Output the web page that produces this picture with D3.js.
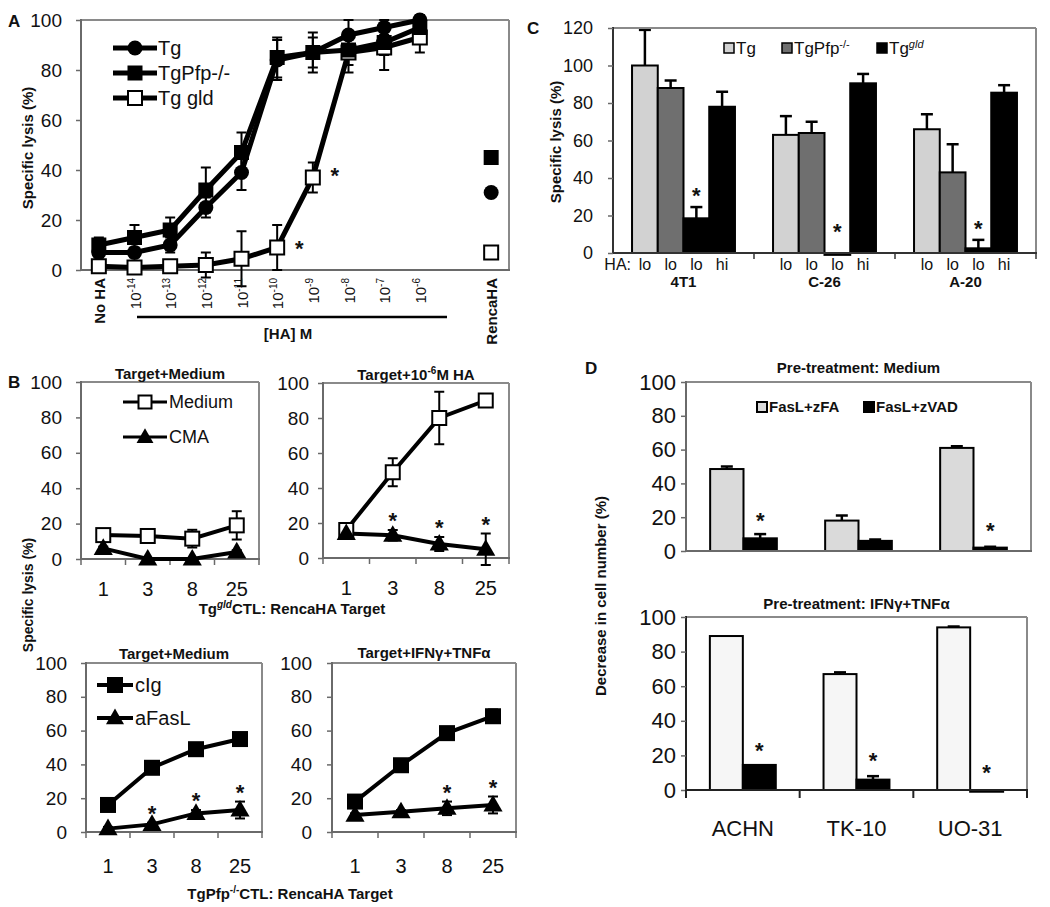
<!DOCTYPE html>
<html><head><meta charset="utf-8">
<script src="https://cdn.jsdelivr.net/npm/d3@7"></script>
<style>body{margin:0;background:#fff} svg text{font-family:"Liberation Sans",Arial,sans-serif;fill:#111}</style>
</head><body>
<svg id="c" width="1050" height="907"></svg>
<script>
// ---------- DATA ----------
// Panel A
const aConc = ["No HA","-14","-13","-12","-11","-10","-9","-8","-7","-6"];
const aTg = [7,7,10,25,39,84,87,94,97,100];
const aTgErr = [2,2,3,4,7,8,6,6,3,2];
const aPfp = [10,13,16,32,47,85,87,88,91,97];
const aPfpErr = [3,5,5,9,8,8,8,6,5,3];
const aGld = [1.5,1,1.5,2,4.5,9,37,87,89,93];
const aGldErr = [1,1,1,5,11,9,6,8,9,6];
const aRencaLabel = "RencaHA";
const aRenca = [31,45,7]; // Tg, TgPfp-/-, Tg gld
const aYTicks = [0,20,40,60,80,100];
// Panel C
const cGroups = ["4T1","C-26","A-20"];
const cHA = ["lo","lo","lo","hi"];
const cTg = [100,63,66];     const cTgErr = [19,10,8];
const cPfp = [88,64,43];     const cPfpErr = [4,6,15];
const cGldLo = [18.5,-1,2.5];const cGldLoErr = [6,0,4.5];
const cGldHi = [78,90.5,85.5];const cGldHiErr = [8,5,4];
const cYTicks = [0,20,40,60,80,100,120];
// Panel B
const bRatios = ["1","3","8","25"];
const b1Medium = [13.5,13,11.5,19]; const b1MediumErr = [2,2,5,8];
const b1CMA = [6,0,0,4];            const b1CMAErr = [1,0,0,1];
const b2Medium = [16,49,80,90];     const b2MediumErr = [4,8,15,1];
const b2CMA = [14,13,8,5];          const b2CMAErr = [3,3,4,9];
const b3cIg = [16,38,49,55];        const b3cIgErr = [2,2,2,3];
const b3aFasL = [2,4.5,11,13];      const b3aFasLErr = [1,1,2,5];
const b4cIg = [18,39.5,58.5,68.5];  const b4cIgErr = [3,2,3,4];
const b4aFasL = [10,12,14,16];      const b4aFasLErr = [1,1,4,5];
const bYTicks = [0,20,40,60,80,100];
// Panel D
const dLines = ["ACHN","TK-10","UO-31"];
const dMedZFA = [48.5,18,61];   const dMedZFAErr = [1.5,3,1];
const dMedZVAD = [7.5,6,2];     const dMedZVADErr = [2.5,0.8,0.5];
const dCytZFA = [89,67,94];     const dCytZFAErr = [0,1,0.5];
const dCytZVAD = [14.5,6,-1];   const dCytZVADErr = [0,2,0];
const dYTicks = [0,20,40,60,80,100];

// ---------- HELPERS ----------
const svg = d3.select("#c");
const FRAME = "#8a8a8a", AXIS = "#6a6a6a";
function line(g,x1,y1,x2,y2,c,w){return g.append("line").attr("x1",x1).attr("y1",y1).attr("x2",x2).attr("y2",y2).attr("stroke",c).attr("stroke-width",w);}
function rich(g,x,y,parts,o){
  o=Object.assign({size:15,weight:"bold",anchor:"middle",supSize:10,supShift:6},o||{});
  const t=g.append("text").attr("x",x).attr("y",y).attr("font-size",o.size).attr("font-weight",o.weight).attr("text-anchor",o.anchor);
  let up=false;
  parts.forEach(p=>{
    const s=t.append("tspan").text(p.t);
    if(p.sup){s.attr("font-size",o.supSize).attr("dy",up?0:-o.supShift);up=true;if(p.italic)s.attr("font-style","italic");}
    else{if(up){s.attr("dy",o.supShift);up=false;}}
  });
  return t;
}
function frame(g,x0,x1,yTop,yBot,axisCol){
  line(g,x0,yTop,x1,yTop,FRAME,2);
  line(g,x1,yTop,x1,yBot,FRAME,2);
  line(g,x0,yTop-1,x0,yBot,axisCol||AXIS,2);
  line(g,x0-1,yBot,x1+1,yBot,axisCol||AXIS,2);
}
function yAxis(g,y,x0,ticks,pad,size,family){
  const ax=g.append("g").attr("transform",`translate(${x0},0)`)
    .call(d3.axisLeft(y).tickValues(ticks).tickSize(5).tickPadding(pad).tickFormat(d3.format("d")));
  ax.select(".domain").remove();
  ax.selectAll("line").attr("stroke",AXIS).attr("stroke-width",1.5);
  ax.selectAll("text").attr("font-size",size).attr("fill","#111").style("font-family",family||'"Liberation Sans",Arial,sans-serif');
  return ax;
}
function errBar(g,x,y,v,e,capW,both,w){
  if(e<=0) return;
  const top=y(v+e), bot=both?y(v-e):y(v);
  line(g,x,top,x,bot,"#000",w||2);
  line(g,x-capW/2,top,x+capW/2,top,"#000",w||2);
  if(both) line(g,x-capW/2,bot,x+capW/2,bot,"#000",w||2);
}
function marker(g,type,x,y,s){
  if(type==="circle") g.append("circle").attr("cx",x).attr("cy",y).attr("r",s/2).attr("fill","#000");
  else if(type==="square") g.append("rect").attr("x",x-s/2).attr("y",y-s/2).attr("width",s).attr("height",s).attr("fill","#000");
  else if(type==="open") g.append("rect").attr("x",x-s/2+1).attr("y",y-s/2+1).attr("width",s-2).attr("height",s-2).attr("fill","#fff").attr("stroke","#000").attr("stroke-width",2);
  else if(type==="tri") g.append("path").attr("transform",`translate(${x},${y+1})`).attr("d",d3.symbol(d3.symbolTriangle,s*s*0.55)()).attr("fill","#000");
}
function star(g,x,y,size){g.append("text").attr("x",x).attr("y",y).attr("text-anchor","middle").attr("font-size",size||22).attr("font-weight","bold").text("*");}

// ---------- PANEL A ----------
{
  const g=svg.append("g");
  const x=d3.scaleBand().domain(d3.range(12)).range([81,509]);
  const cx=i=>x(i)+x.bandwidth()/2;
  const y=d3.scaleLinear().domain([0,100]).range([270,20]);
  frame(g,81,509,20,270);
  yAxis(g,y,81,aYTicks,14,19);
  g.append("text").attr("x",8).attr("y",27).attr("font-size",17).attr("font-weight","bold").text("A");
  g.append("text").attr("transform","translate(33,148) rotate(-90)").attr("text-anchor","middle").attr("font-size",15).attr("font-weight","bold").text("Specific lysis (%)");
  const ln=d3.line().x((d,i)=>cx(i)).y(d=>y(d));
  const series=[[aGld,aGldErr,"open",16],[aTg,aTgErr,"circle",15],[aPfp,aPfpErr,"square",15]];
  series.forEach(([v,e])=>v.forEach((d,i)=>errBar(g,cx(i),y,d,e[i],10,true,2)));
  series.forEach(([v])=>g.append("path").attr("d",ln(v)).attr("fill","none").attr("stroke","#000").attr("stroke-width",5));
  series.forEach(([v,e,m,s])=>v.forEach((d,i)=>marker(g,m,cx(i),y(d),s)));
  // RencaHA points
  [["circle",15],["square",15],["open",16]].forEach(([m,s],k)=>marker(g,m,cx(11),y(aRenca[k]),s));
  // stars
  star(g,cx(6)+22,y(aGld[6])+5,22);
  star(g,cx(5)+22,y(aGld[5])+8,22);
  // legend
  [["Tg","circle",15,48],["TgPfp-/-","square",15,73],["Tg gld","open",16,98]].forEach(([t,m,s,yy])=>{
    line(g,113,yy,157,yy,"#000",5);
    marker(g,m,135,yy,s);
    g.append("text").attr("x",158).attr("y",yy).attr("dy","0.36em").attr("font-size",20).text(t);
  });
  // x labels
  aConc.forEach((c,i)=>{
    const xx=cx(i)+6;
    const t=g.append("text").attr("transform",`translate(${xx},278) rotate(-90)`).attr("text-anchor","end");
    if(i===0){t.attr("font-size",15).attr("font-weight","bold").text(c);}
    else{t.attr("font-size",15);t.append("tspan").text("10");t.append("tspan").attr("font-size",10).attr("dy",-6).text(c);}
  });
  g.append("text").attr("transform",`translate(${cx(11)+6},278) rotate(-90)`).attr("text-anchor","end").attr("font-size",15).attr("font-weight","bold").text(aRencaLabel);
  line(g,137,317,447,317,"#000",2.5);
  g.append("text").attr("x",288).attr("y",339).attr("text-anchor","middle").attr("font-size",15).attr("font-weight","bold").text("[HA] M");
}

// ---------- PANEL C ----------
{
  const g=svg.append("g");
  const x0=d3.scaleBand().domain(cGroups).range([613,1036]).paddingInner(0.27).paddingOuter(0.135);
  const x1=d3.scaleBand().domain(d3.range(4)).range([0,x0.bandwidth()]);
  const y=d3.scaleLinear().domain([0,120]).range([253,28]);
  const cols=["#d2d2d2","#6f6f6f","#000","#000"];
  const vals=[cTg,cPfp,cGldLo,cGldHi], errs=[cTgErr,cPfpErr,cGldLoErr,cGldHiErr];
  g.append("text").attr("x",527).attr("y",34).attr("font-size",17).attr("font-weight","bold").text("C");
  g.append("text").attr("transform","translate(561,142) rotate(-90)").attr("text-anchor","middle").attr("font-size",15).attr("font-weight","bold").text("Specific lysis (%)");
  cGroups.forEach((grp,gi)=>{
    vals.forEach((v,k)=>{
      const bx=x0(grp)+x1(k), val=v[gi];
      g.append("rect").attr("x",bx).attr("width",x1.bandwidth()).attr("y",Math.min(y(val),y(0))).attr("height",Math.abs(y(0)-y(val)))
        .attr("fill",cols[k]).attr("stroke","#000").attr("stroke-width",2);
      errBar(g,bx+x1.bandwidth()/2,y,val,errs[k][gi],12,false,2.5);
      g.append("text").attr("x",bx+x1.bandwidth()/2).attr("y",270).attr("text-anchor","middle").attr("font-size",16).text(cHA[k]);
    });
    g.append("text").attr("x",x0(grp)+x0.bandwidth()/2).attr("y",287).attr("text-anchor","middle").attr("font-size",15).attr("font-weight","bold").text(grp);
    const sx=x0(grp)+x1(2)+x1.bandwidth()/2;
    star(g,sx,Math.min(y(cGldLo[gi]+cGldLoErr[gi]),y(0))-4+(gi===1?-10:0),22);
  });
  frame(g,613,1036,28,253,"#333");
  // group boundary ticks
  [...cGroups.map(d=>x0(d)-x0.step()*0.135),1036].slice(1).forEach(t=>line(g,t,253,t,259,"#333",1.5));
  yAxis(g,y,613,cYTicks,15,18);
  g.append("text").attr("x",631).attr("y",270).attr("text-anchor","end").attr("font-size",16).text("HA:");
  // legend
  const lg=[[729,"#d2d2d2",[{t:"Tg"}]],[787,"#6f6f6f",[{t:"TgPfp"},{t:"-/-",sup:true}]],[882,"#000",[{t:"Tg"},{t:"gld",sup:true,italic:true}]]];
  lg.forEach(([lx,c,parts])=>{
    g.append("rect").attr("x",lx-5).attr("y",43).attr("width",10).attr("height",10).attr("fill",c).attr("stroke","#000").attr("stroke-width",1.5);
    rich(g,lx+7,54,parts,{size:17,weight:"normal",anchor:"start",supSize:11,supShift:6});
  });
}

// ---------- PANEL B ----------
function drawB(o){
  const g=svg.append("g");
  const x=d3.scaleBand().domain(bRatios).range([o.x0,o.x1]);
  const cx=d=>x(d)+x.bandwidth()/2;
  const y=d3.scaleLinear().domain([0,100]).range([o.yb,o.yt]);
  frame(g,o.x0,o.x1,o.yt,o.yb);
  yAxis(g,y,o.x0,bYTicks,o.pad,19);
  [...bRatios.map(d=>x(d)),o.x1].forEach(t=>line(g,t,o.yb,t,o.yb+6,AXIS,1.5));
  const xa=g.append("g").attr("transform",`translate(0,${o.xlab})`).call(d3.axisBottom(x).tickSize(0).tickPadding(0));
  xa.select(".domain").remove();
  xa.selectAll("text").attr("font-size",20).attr("fill","#111").attr("dy",0);
  const ln=d3.line().x((d,i)=>cx(bRatios[i])).y(d=>y(d));
  o.series.forEach(s=>s.v.forEach((d,i)=>errBar(g,cx(bRatios[i]),y,d,s.e[i],10,true,2)));
  o.series.forEach(s=>g.append("path").attr("d",ln(s.v)).attr("fill","none").attr("stroke","#000").attr("stroke-width",o.lw));
  o.series.forEach(s=>s.v.forEach((d,i)=>marker(g,s.m,cx(bRatios[i]),y(d),s.s)));
  (o.stars||[]).forEach(i=>{const s=o.series[1];star(g,cx(bRatios[i]),y(s.v[i]+s.e[i])-2,22);});
  rich(g,(o.x0+o.x1)/2,o.tY,o.title,{size:15,supSize:10,supShift:6});
  if(o.legend) o.legend.forEach(([t,m,s,yy])=>{
    line(g,o.lgx0,yy,o.lgx1,yy,"#000",o.lgw);
    marker(g,m,(o.lgx0+o.lgx1)/2,yy,s);
    g.append("text").attr("x",o.lgx1+2).attr("y",yy).attr("dy","0.36em").attr("font-size",o.lgSize).text(t);
  });
}
drawB({x0:81,x1:259,yt:382,yb:559,pad:14,xlab:596,lw:4,tY:379,title:[{t:"Target+Medium"}],
  series:[{v:b1Medium,e:b1MediumErr,m:"open",s:16},{v:b1CMA,e:b1CMAErr,m:"tri",s:17}],
  legend:[["Medium","open",15,402],["CMA","tri",15,437]],lgx0:123,lgx1:167,lgw:3,lgSize:18});
drawB({x0:323,x1:509,yt:383,yb:558,pad:9,xlab:595,lw:4,tY:380,title:[{t:"Target+10"},{t:"-6",sup:true},{t:"M HA"}],
  series:[{v:b2Medium,e:b2MediumErr,m:"open",s:16},{v:b2CMA,e:b2CMAErr,m:"tri",s:17}],stars:[1,2,3]});
drawB({x0:86,x1:262,yt:663,yb:832,pad:14,xlab:873,lw:4,tY:659,title:[{t:"Target+Medium"}],
  series:[{v:b3cIg,e:b3cIgErr,m:"square",s:16},{v:b3aFasL,e:b3aFasLErr,m:"tri",s:17}],stars:[1,2,3],
  legend:[["cIg","square",16,685],["aFasL","tri",16,718]],lgx0:97,lgx1:133,lgw:4,lgSize:20});
drawB({x0:332,x1:516,yt:663,yb:832,pad:15,xlab:873,lw:4,tY:658,title:[{t:"Target+IFNγ+TNFα"}],
  series:[{v:b4cIg,e:b4cIgErr,m:"square",s:16},{v:b4aFasL,e:b4aFasLErr,m:"tri",s:17}],stars:[2,3]});
{
  const g=svg.append("g");
  g.append("text").attr("x",8).attr("y",388).attr("font-size",17).attr("font-weight","bold").text("B");
  g.append("text").attr("transform","translate(33,595) rotate(-90)").attr("text-anchor","middle").attr("font-size",14).attr("font-weight","bold").text("Specific lysis (%)");
  rich(g,292,614,[{t:"Tg"},{t:"gld",sup:true,italic:true},{t:"CTL: RencaHA Target"}],{size:15});
  rich(g,290,899,[{t:"TgPfp"},{t:"-/-",sup:true},{t:"CTL: RencaHA Target"}],{size:15});
}

// ---------- PANEL D ----------
const NARROW='"Liberation Sans Narrow","Arial Narrow","Liberation Sans",Arial,sans-serif';
function drawD(o){
  const g=svg.append("g");
  const x0=d3.scaleBand().domain(dLines).range([686,o.x1]).paddingInner(0.42).paddingOuter(0.21);
  const x1=d3.scaleBand().domain([0,1]).range([0,x0.bandwidth()]);
  const y=d3.scaleLinear().domain([0,100]).range([o.yb,o.yt]);
  const cols=[o.light,"#000"];
  dLines.forEach((ln,gi)=>{
    o.vals.forEach((v,k)=>{
      const bx=x0(ln)+x1(k), val=v[gi];
      g.append("rect").attr("x",bx).attr("width",x1.bandwidth()).attr("y",Math.min(y(val),y(0))).attr("height",Math.max(Math.abs(y(0)-y(val)),1))
        .attr("fill",cols[k]).attr("stroke","#000").attr("stroke-width",2);
      errBar(g,bx+x1.bandwidth()/2,y,val,o.errs[k][gi],12,false,2.5);
    });
  });
  o.stars.forEach(([gi,yy])=>star(g,x0(dLines[gi])+x1(1)+x1.bandwidth()/2,yy,22));
  frame(g,686,o.x1,o.yt,o.yb,o.axisCol);
  yAxis(g,y,686,dYTicks,5,22,NARROW);
  if(o.ticks){
    [...dLines.map(d=>x0(d)-x0.step()*0.21),o.x1].slice(1).forEach(t=>line(g,t,o.yb,t,o.yb+8,"#222",2));
    line(g,686,o.yb,686,o.yb+8,"#222",2);
    const xa=g.append("g").attr("transform",`translate(0,${o.xlab})`).call(d3.axisBottom(x0).tickSize(0).tickPadding(0));
    xa.select(".domain").remove();
    xa.selectAll("text").attr("font-size",22).attr("fill","#111").attr("dy",0).style("font-family",NARROW);
  }
  g.append("text").attr("x",(686+o.x1)/2).attr("y",o.tY).attr("text-anchor","middle").attr("font-size",15).attr("font-weight","bold").text(o.title);
  if(o.legend){
    [[762,o.light,"FasL+zFA"],[869,"#000","FasL+zVAD"]].forEach(([lx,c,t])=>{
      g.append("rect").attr("x",lx-5).attr("y",402).attr("width",10).attr("height",10).attr("fill",c).attr("stroke","#000").attr("stroke-width",2);
      g.append("text").attr("x",lx+7).attr("y",412).attr("font-size",15).attr("font-weight","bold").text(t);
    });
  }
}
drawD({x1:1031,yt:382,yb:551,light:"#dadada",vals:[dMedZFA,dMedZVAD],errs:[dMedZFAErr,dMedZVADErr],
  stars:[[0,528],[2,538]],title:"Pre-treatment: Medium",tY:373,legend:true,ticks:false});
drawD({x1:1027,yt:617,yb:790,light:"#f6f6f6",vals:[dCytZFA,dCytZVAD],errs:[dCytZFAErr,dCytZVADErr],
  stars:[[0,758],[1,768],[2,780]],title:"Pre-treatment: IFNγ+TNFα",tY:609,ticks:true,xlab:836,axisCol:"#222"});
{
  const g=svg.append("g");
  g.append("text").attr("x",585).attr("y",374).attr("font-size",17).attr("font-weight","bold").text("D");
  g.append("text").attr("transform","translate(606,596) rotate(-90)").attr("text-anchor","middle").attr("font-size",15).attr("font-weight","bold").text("Decrease in cell number (%)");
}
</script>
</body></html>
